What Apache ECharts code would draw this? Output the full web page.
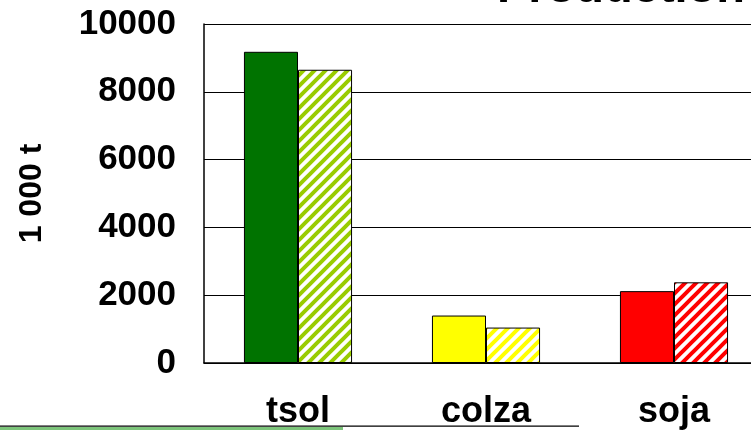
<!DOCTYPE html>
<html>
<head>
<meta charset="utf-8">
<script src="https://cdn.jsdelivr.net/npm/echarts@6/dist/echarts.min.js"></script>
<style>
  html, body { margin: 0; padding: 0; background: #fff; overflow: hidden; }
  #chart { width: 751px; height: 430px; }
</style>
</head>
<body>
<div id="chart"></div>
<script>
var categories = ["tsol", "colza", "soja"];
var valuesSolid = [9180, 1400, 2120];
var valuesHatched = [8650, 1045, 2380];
var solidColors = ["#007300", "#ffff00", "#ff0000"];
var hatchColors = ["#99cc00", "#ffff00", "#ff0000"];
var yTicks = [0, 2000, 4000, 6000, 8000, 10000];

// diagonal stripes "/" for the second series
function hatch(color) {
  var s = 11;
  var c = document.createElement("canvas");
  c.width = s;
  c.height = s;
  var ctx = c.getContext("2d");
  ctx.fillStyle = "#fff";
  ctx.fillRect(0, 0, s, s);
  ctx.strokeStyle = color;
  ctx.lineWidth = 4;
  ctx.beginPath();
  ctx.moveTo(-2, 2); ctx.lineTo(2, -2);
  ctx.moveTo(0, s); ctx.lineTo(s, 0);
  ctx.moveTo(s - 2, s + 2); ctx.lineTo(s + 2, s - 2);
  ctx.stroke();
  return { image: c, repeat: "repeat" };
}

var dom = document.getElementById("chart");
var myChart = echarts.init(dom, null, { renderer: "canvas" });

var font = "Liberation Sans, Arial, sans-serif";

var option = {
  animation: false,
  grid: { left: 204, top: 24, width: 564, height: 339, outerBoundsMode: "none" },
  xAxis: {
    type: "category",
    data: categories,
    axisTick: { show: false },
    axisLine: { lineStyle: { color: "#000", width: 1.5 } },
    axisLabel: {
      color: "#000",
      fontSize: 36,
      fontWeight: "bold",
      fontFamily: font,
      margin: 31,
    },
  },
  yAxis: {
    type: "value",
    min: 0,
    max: 10000,
    interval: 2000,
    name: "1 000 t",
    nameLocation: "middle",
    nameRotate: 90,
    nameGap: 156,
    nameTextStyle: {
      color: "#000",
      fontSize: 32,
      fontWeight: "bold",
      fontFamily: font,
    },
    axisLine: { show: true, lineStyle: { color: "#000", width: 1.5 } },
    axisTick: { show: false },
    splitLine: { lineStyle: { color: "#000", width: 1 } },
    axisLabel: {
      color: "#000",
      fontSize: 35,
      fontWeight: "bold",
      fontFamily: font,
      margin: 28,
      formatter: function (v) {
        return yTicks.indexOf(v) >= 0 ? String(v) : "";
      },
    },
  },
  series: [
    {
      type: "bar",
      barGap: "0%",
      barCategoryGap: "42.5%",
      data: valuesSolid.map(function (v, i) {
        return {
          value: v,
          itemStyle: { color: solidColors[i], borderColor: "#000", borderWidth: 1 },
        };
      }),
    },
    {
      type: "bar",
      data: valuesHatched.map(function (v, i) {
        return {
          value: v,
          itemStyle: { color: hatch(hatchColors[i]), borderColor: "#000", borderWidth: 1 },
        };
      }),
    },
  ],
  graphic: [
    {
      // title, cut off by the top edge like in the source
      type: "text",
      x: 497,
      y: -34,
      style: {
        text: "Production",
        font: "bold 47px Liberation Sans, Arial, sans-serif",
        fill: "#000",
        verticalAlign: "top",
      },
    },
    {
      type: "rect",
      shape: { x: 0, y: 425.5, width: 579, height: 1.2 },
      style: { fill: "#000" },
    },
    {
      type: "rect",
      shape: { x: 0, y: 427, width: 343, height: 3 },
      style: { fill: "#7cc47a" },
    },
  ],
};

myChart.setOption(option);
window.addEventListener("resize", myChart.resize);
</script>
</body>
</html>
